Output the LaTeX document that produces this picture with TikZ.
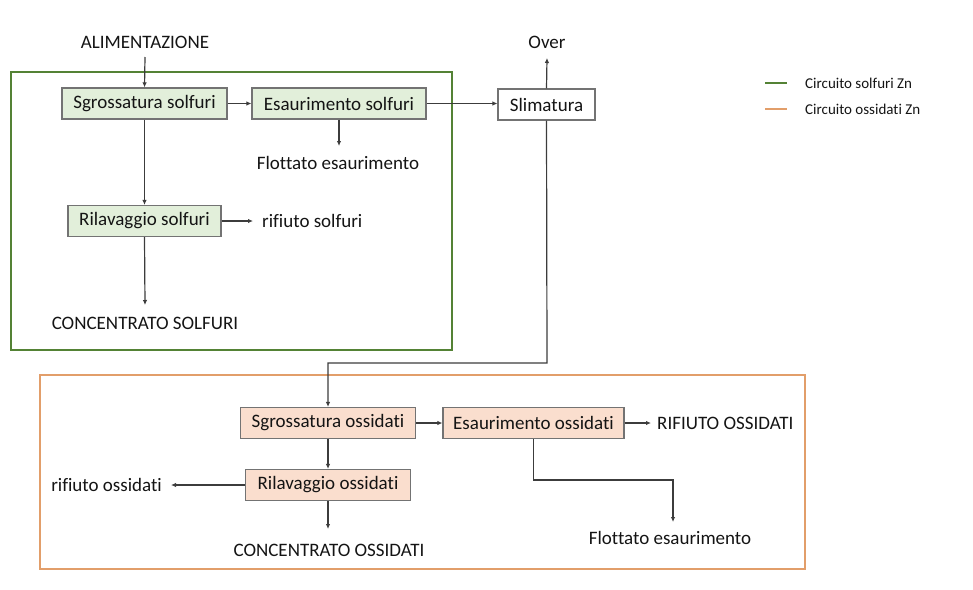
\documentclass[tikz,border=0pt]{standalone}
\usepackage{fontspec}
\setmainfont{Carlito}[Ligatures={NoCommon}]
\usetikzlibrary{arrows.meta}
\definecolor{solfgreen}{RGB}{84,130,53}
\definecolor{ossorange}{RGB}{226,158,106}
\definecolor{solffill}{RGB}{226,239,218}
\definecolor{ossfill}{RGB}{250,222,206}
\definecolor{boxline}{RGB}{115,115,115}
\definecolor{flowline}{RGB}{60,60,60}
\definecolor{txt}{RGB}{20,20,20}
\tikzset{
  x=1pt, y=-1pt,
  every node/.style={text=txt, font=\fontsize{19}{22}\selectfont},
  unit/.style={draw=boxline, line width=1.2pt, inner sep=0pt, minimum height=31pt},
  solfunit/.style={unit, fill=solffill},
  ossunit/.style={unit, fill=ossfill},
  plainunit/.style={unit, fill=white},
  label/.style={inner sep=0pt},
  flow/.style={draw=flowline, line width=1.2pt, -{Latex[length=5pt,width=4.5pt]}},
  frame/.style={line width=2pt},
  legendtext/.style={inner sep=0pt, anchor=west, font=\fontsize{15}{18}\selectfont}
}
\begin{document}
\begin{tikzpicture}
\useasboundingbox (0,0) rectangle (973,589);

% circuit frames
\draw[frame, draw=solfgreen] (11,72) rectangle (452,350);
\draw[frame, draw=ossorange] (40,375) rectangle (805,569);

% legend
\draw[line width=2.4pt, draw=solfgreen] (765,83) -- (787,83);
\node[legendtext] (legsolf) at (805,83) {Circuito solfuri Zn};
\draw[line width=2.4pt, draw=ossorange] (765,109) -- (787,109);
\node[legendtext] (legoss) at (805,109) {Circuito ossidati Zn};

% sulphide circuit
\node[label] (alim) at (145,42) {ALIMENTAZIONE};
\node[solfunit, minimum width=165pt] (sg1) at (144.5,103.5) {Sgrossatura solfuri};
\node[solfunit, minimum width=174pt] (es1) at (339,103.5) {Esaurimento solfuri};
\node[label] (flot1) at (338,163) {Flottato esaurimento};
\node[solfunit, minimum width=153pt] (ril1) at (144.5,221) {Rilavaggio solfuri};
\node[label, anchor=west] (rif1) at (262,221) {rifiuto solfuri};
\node[label] (conc1) at (145,323) {CONCENTRATO SOLFURI};

% desliming
\node[plainunit, minimum width=97pt] (slim) at (546.5,104.5) {Slimatura};
\node[label] (over) at (547,42) {Over};

% oxide circuit
\node[ossunit, minimum width=175pt] (sg2) at (328,423) {Sgrossatura ossidati};
\node[ossunit, minimum width=181pt] (es2) at (533.5,423) {Esaurimento ossidati};
\node[label, anchor=west] (rif2) at (657,423) {RIFIUTO OSSIDATI};
\node[ossunit, minimum width=165pt] (ril2) at (328,485) {Rilavaggio ossidati};
\node[label, anchor=east] (rif3) at (162,485) {rifiuto ossidati};
\node[label] (conc2) at (329,550) {CONCENTRATO OSSIDATI};
\node[label] (flot2) at (670,538) {Flottato esaurimento};

% free ends of the connectors
\coordinate (alimout) at (145,57);
\coordinate (flot1in) at (339,146);
\coordinate (rif1in) at (253,221);
\coordinate (conc1in) at (145,305);
\coordinate (overin) at (547,58);
\coordinate (turn1) at (547,363);
\coordinate (rif2in) at (651,423);
\coordinate (rif3in) at (171,485);
\coordinate (conc2in) at (328,529);
\coordinate (turn2) at (533.5,480);
\coordinate (turn3) at (673,480);
\coordinate (flot2in) at (673,522);

% connectors
\draw[flow] (alimout) -- (sg1.north);
\draw[flow] (sg1.east) -- (es1.west);
\draw[flow] (es1.south -| flot1in) -- (flot1in);
\draw[flow] (sg1.south) -- (ril1.north);
\draw[flow] (ril1.east) -- (rif1in);
\draw[flow] (ril1.south) -- (conc1in);
\draw[flow] (es1.east) -- (slim.west |- es1.east);
\draw[flow] (slim.north) -- (overin);
\draw[flow] (slim.south) -- (turn1) -| (sg2.north);
\draw[flow] (sg2.east) -- (es2.west);
\draw[flow] (es2.east) -- (rif2in);
\draw[flow] (sg2.south) -- (ril2.north);
\draw[flow] (ril2.west) -- (rif3in);
\draw[flow] (ril2.south) -- (conc2in);
\draw[flow] (es2.south) -- (turn2) -- (turn3) -- (flot2in);
\end{tikzpicture}
\end{document}
